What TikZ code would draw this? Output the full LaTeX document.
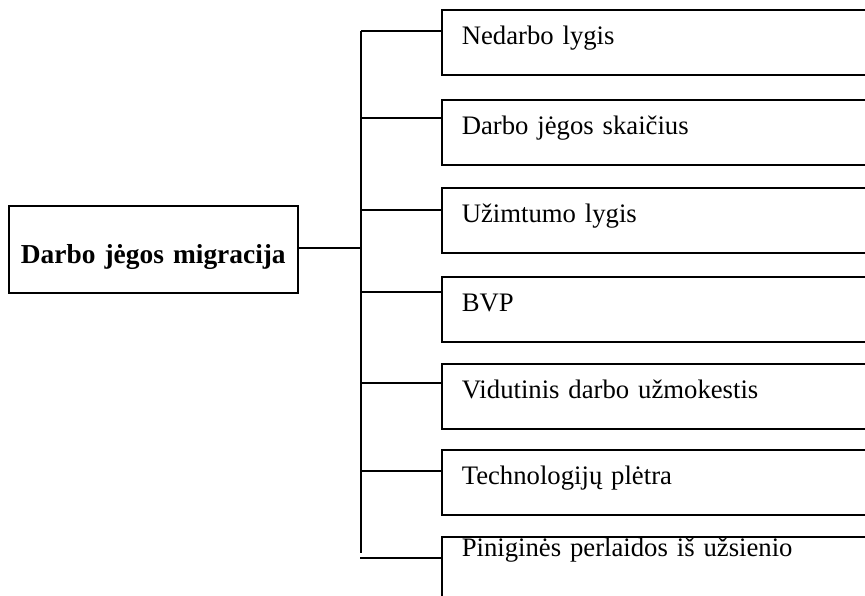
\documentclass[tikz,border=0pt]{standalone}
\usepackage{fontspec}
\setmainfont{Liberation Serif}
\begin{document}
\begin{tikzpicture}[x=1pt,y=-1pt,
  line width=1.6pt,
  every node/.style={font=\fontsize{26.7pt}{32pt}\selectfont},
  itembox/.style={draw, rectangle, anchor=north west, inner xsep=20pt, inner ysep=0pt,
    text width=399pt, align=left, text height=35pt, text depth=30pt},
  lastbox/.style={itembox, text height=20pt, text depth=90pt},
  mainbox/.style={draw, rectangle, inner xsep=0pt, inner ysep=0pt, text width=289pt,
    align=center, text height=58pt, text depth=29pt, anchor=north west,
    font=\fontsize{27.4pt}{32pt}\selectfont\bfseries}]
\useasboundingbox (0,0) rectangle (865,596);
\clip (0,0) rectangle (865,596);
% main box
\node[mainbox] (m) at (8,205) {Darbo jėgos migracija};
% items
\node[itembox] (b1) at (441,9)   {Nedarbo lygis};
\node[itembox] (b2) at (441,99)  {Darbo jėgos skaičius};
\node[itembox] (b3) at (441,187) {Užimtumo lygis};
\node[itembox] (b4) at (441,276) {BVP};
\node[itembox] (b5) at (441,363) {Vidutinis darbo užmokestis};
\node[itembox] (b6) at (441,449) {Technologijų plėtra};
\node[lastbox] (b7) at (441,536) {Piniginės perlaidos iš užsienio};
% spine coordinates
\coordinate (j1) at (361,31);
\coordinate (j2) at (361,118);
\coordinate (j3) at (361,210);
\coordinate (j4) at (361,292);
\coordinate (j5) at (361,383);
\coordinate (j6) at (361,471);
\coordinate (j7) at (360,558);
\coordinate (jm) at (361,248);
\coordinate (jend) at (361,553);
% spine
\draw (j1) -- (jend);
\draw (m.east |- jm) -- (jm);
\foreach \i in {1,...,7} {
  \draw (j\i) -- (b\i.west |- j\i);
}
\end{tikzpicture}
\end{document}
